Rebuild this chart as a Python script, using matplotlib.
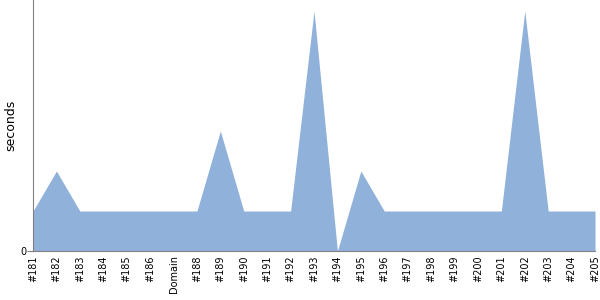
import matplotlib
matplotlib.use("Agg")
import matplotlib.pyplot as plt

# build labels and durations
builds = ["#181", "#182", "#183", "#184", "#185", "#186", "Domain", "#188",
          "#189", "#190", "#191", "#192", "#193", "#194", "#195", "#196",
          "#197", "#198", "#199", "#200", "#201", "#202", "#203", "#204", "#205"]
seconds = [1, 2, 1, 1, 1, 1, 1, 1, 3, 1, 1, 1, 6, 0, 2, 1, 1, 1, 1, 1, 1, 6, 1, 1, 1]

fig = plt.figure(figsize=(6, 3), dpi=100)
ax = fig.add_axes([0.055, 0.1633, 0.9367, 0.8367])

x = list(range(len(builds)))
ax.fill_between(x, seconds, 0, color="#8fb1da", linewidth=0)

ax.set_xlim(0, len(builds) - 1)
ax.set_ylim(0, 6.275)
ax.set_xticks(x)
ax.set_xticklabels(builds, rotation=90, fontsize=7)
ax.set_yticks([0])
ax.set_yticklabels(["0"], fontsize=7)
ax.tick_params(axis="x", length=0, pad=3)
ax.tick_params(axis="y", length=4, pad=1, color="#808080")
ax.set_ylabel("seconds", fontsize=9)
ax.yaxis.set_label_coords(-0.028, 0.5)

for side in ["top", "right"]:
    ax.spines[side].set_visible(False)
for side in ["left", "bottom"]:
    ax.spines[side].set_color("#808080")

fig.savefig("out.png", dpi=100)
